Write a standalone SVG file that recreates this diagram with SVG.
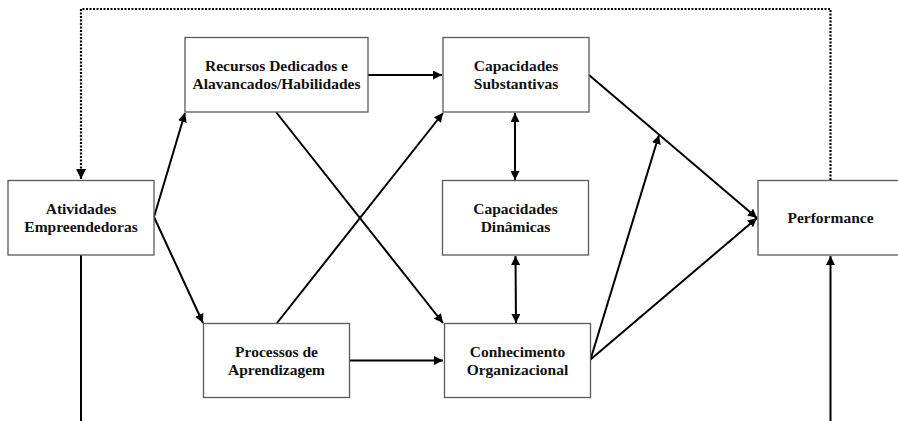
<svg xmlns="http://www.w3.org/2000/svg" width="898" height="421" viewBox="0 0 898 421">
<style>
.box{fill:#fff;stroke:#595959;stroke-width:1.3}
.t{font-family:'Liberation Serif',Tinos,'Times New Roman','DejaVu Serif',serif;font-weight:bold;font-size:15.5px;fill:#111;text-anchor:middle}
.c{fill:none;stroke:#000;stroke-width:2}
.d{fill:none;stroke:#000;stroke-width:2.2;stroke-dasharray:2 1.5}
</style>
<defs>
<marker id="a" viewBox="0 0 10 10" refX="10" refY="5" markerWidth="4.5" markerHeight="4.5" orient="auto-start-reverse" markerUnits="strokeWidth">
<path d="M0,0 L10,5 L0,10 z" fill="#000"/>
</marker>
</defs>
<rect width="898" height="421" fill="#fff"/>
<g id="connectors">
<polyline class="d" points="830.5,180 830.5,9 81,9 81,179" marker-end="url(#a)"/>
<line class="c" x1="81" y1="255" x2="81" y2="421"/>
<line class="c" x1="830.5" y1="421" x2="830.5" y2="256" marker-end="url(#a)"/>
<line class="c" x1="154" y1="217" x2="185" y2="113" marker-end="url(#a)"/>
<line class="c" x1="154" y1="217" x2="203" y2="323" marker-end="url(#a)"/>
<line class="c" x1="368" y1="75" x2="442" y2="75" marker-end="url(#a)"/>
<line class="c" x1="276" y1="112" x2="443" y2="323" marker-end="url(#a)"/>
<line class="c" x1="277" y1="323" x2="443" y2="113" marker-end="url(#a)"/>
<line class="c" x1="349" y1="360.5" x2="443" y2="360.5" marker-end="url(#a)"/>
<line class="c" x1="515" y1="113" x2="515" y2="180" marker-start="url(#a)" marker-end="url(#a)"/>
<line class="c" x1="515.5" y1="256" x2="516" y2="323" marker-start="url(#a)" marker-end="url(#a)"/>
<line class="c" x1="589" y1="75" x2="757" y2="218" marker-end="url(#a)"/>
<line class="c" x1="590.5" y1="359.5" x2="757" y2="218" marker-end="url(#a)"/>
<line class="c" x1="590.5" y1="359.5" x2="659" y2="135" marker-end="url(#a)"/>
</g>
<g id="atividades">
<rect class="box" x="8" y="180.5" width="146" height="74.5"/>
<text class="t" x="81" y="214">Atividades</text>
<text class="t" x="81" y="232">Empreendedoras</text>
</g>
<g id="recursos">
<rect class="box" x="185" y="37.5" width="183" height="74.5"/>
<text class="t" x="276.5" y="71">Recursos Dedicados e</text>
<text class="t" x="276.5" y="89">Alavancados/Habilidades</text>
</g>
<g id="capacidades-substantivas">
<rect class="box" x="443" y="37.5" width="146" height="74.5"/>
<text class="t" x="516" y="71">Capacidades</text>
<text class="t" x="516" y="89">Substantivas</text>
</g>
<g id="capacidades-dinamicas">
<rect class="box" x="442.5" y="180.5" width="146" height="74.5"/>
<text class="t" x="515.5" y="214">Capacidades</text>
<text class="t" x="515.5" y="232">Dinâmicas</text>
</g>
<g id="processos">
<rect class="box" x="203.5" y="323.5" width="146" height="74"/>
<text class="t" x="276.5" y="357">Processos de</text>
<text class="t" x="276.5" y="375">Aprendizagem</text>
</g>
<g id="conhecimento">
<rect class="box" x="444.5" y="323.5" width="146" height="74"/>
<text class="t" x="517.5" y="357">Conhecimento</text>
<text class="t" x="517.5" y="375">Organizacional</text>
</g>
<g id="performance">
<rect class="box" x="758" y="180.5" width="145" height="74.5"/>
<text class="t" x="830.5" y="223">Performance</text>
</g>
</svg>
